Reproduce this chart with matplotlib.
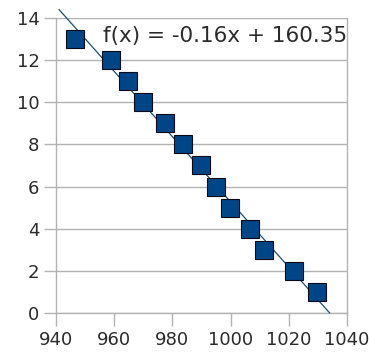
import numpy as np
import matplotlib
matplotlib.use("Agg")
import matplotlib.pyplot as plt

# data
x_vals = [946.5, 958.9, 964.6, 969.8, 977.5, 983.5, 989.7, 995.0, 999.8, 1006.7, 1011.5, 1021.8, 1029.8]
y_vals = [13, 12, 11, 10, 9, 8, 7, 6, 5, 4, 3, 2, 1]
x_ticks = [940, 960, 980, 1000, 1020, 1040]
y_ticks = [0, 2, 4, 6, 8, 10, 12, 14]
equation = "f(x) = -0.16x + 160.35"

plt.rcParams['font.family'] = ['DejaVu Sans']

fig = plt.figure(figsize=(3.69, 3.54), dpi=100)
ax = fig.add_axes([0.152, 0.116, 0.788, 0.833])

grid_col = "#b3b3b3"

# trend line from a linear fit
m, b = np.polyfit(x_vals, y_vals, 1)
x0 = (14.4 - b) / m
x1 = -b / m
ax.plot([x0, x1], [m * x0 + b, m * x1 + b], color="#1c4f6e", lw=0.9, zorder=3, clip_on=False)

ax.plot(x_vals, y_vals, linestyle="none", marker="s", markersize=12.5,
        markerfacecolor="#004586", markeredgecolor="#0a0a1a", markeredgewidth=0.8, zorder=4)

ax.set_xlim(940, 1040)
ax.set_ylim(0, 14)
ax.set_xticks(x_ticks)
ax.set_yticks(y_ticks)
ax.grid(axis="y", color=grid_col, lw=1.0)
ax.set_axisbelow(True)
for s in ["left", "right", "bottom"]:
    ax.spines[s].set_color(grid_col)
    ax.spines[s].set_linewidth(1.0)
ax.spines["top"].set_visible(False)
ax.tick_params(axis="both", colors=grid_col, labelcolor="#2b2b2b", labelsize=13,
               length=9, width=1.0)
ax.tick_params(axis="x", pad=4)
ax.tick_params(axis="y", pad=3)

ax.text(0.16, 0.94, equation, transform=ax.transAxes, fontsize=15.5,
        color="#2b2b2b", va="center", ha="left")

fig.savefig("out.png", dpi=100)
